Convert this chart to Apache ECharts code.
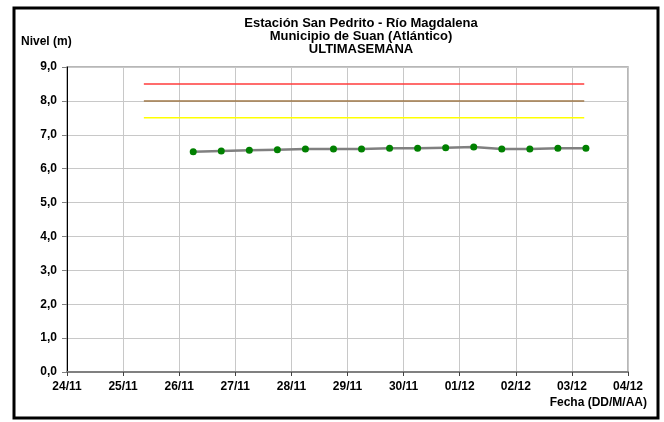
<!DOCTYPE html>
<html>
<head>
<meta charset="utf-8">
<script src="https://cdn.jsdelivr.net/npm/echarts@6/dist/echarts.min.js"></script>
<style>
  html, body { margin: 0; padding: 0; background: #fff; }
  #chart { width: 664px; height: 422px; }
</style>
</head>
<body>
<div id="chart"></div>
<script>
// x axis days counted from 24/11
const dayLabels = ['24/11', '25/11', '26/11', '27/11', '28/11', '29/11', '30/11', '01/12', '02/12', '03/12', '04/12'];
// readings every 12 h (06:00 and 18:00) from 26/11 06:00
const times = [2.25, 2.75, 3.25, 3.75, 4.25, 4.75, 5.25, 5.75, 6.25, 6.75, 7.25, 7.75, 8.25, 8.75, 9.25];
const nivel = [6.50, 6.52, 6.54, 6.56, 6.58, 6.58, 6.58, 6.60, 6.60, 6.62, 6.64, 6.58, 6.58, 6.60, 6.60];
// alert levels (m) and their span on the x axis
const alertas = [8.5, 8.0, 7.5];
const alertaColores = ['#ff3b3b', '#a07848', '#ffff00'];
const alertaDesde = 1.37;
const alertaHasta = 9.22;

const font = 'Liberation Sans, Arial, sans-serif';
const coma = v => v.toFixed(1).replace('.', ',');

let series = alertas.map((a, i) => ({
    type: 'line',
    data: [[alertaDesde, a], [alertaHasta, a]],
    showSymbol: false,
    lineStyle: {color: alertaColores[i], width: 1.5},
    silent: true
}));
series.push({
    type: 'line',
    data: times.map((t, i) => [t, nivel[i]]),
    symbol: 'circle',
    symbolSize: 7,
    itemStyle: {color: '#008000'},
    lineStyle: {color: '#808080', width: 2.5}
});

let myChart = echarts.init(document.getElementById('chart'));
myChart.setOption({
    animation: false,
    title: {
        text: 'Estación San Pedrito - Río Magdalena\nMunicipio de Suan (Atlántico)\nULTIMASEMANA',
        left: 356,
        top: 12,
        textAlign: 'center',
        textStyle: {fontFamily: font, fontSize: 13, fontWeight: 'bold', color: '#000', lineHeight: 13}
    },
    grid: {
        left: 67,
        right: 36,
        top: 67,
        bottom: 50,
        show: true,
        borderColor: '#a0a0a0',
        borderWidth: 1.5
    },
    xAxis: {
        type: 'value',
        min: 0,
        max: 10,
        interval: 1,
        axisLine: {lineStyle: {color: '#808080', width: 2}},
        axisTick: {show: true, length: 4, lineStyle: {color: '#404040'}},
        axisLabel: {
            margin: 9,
            fontFamily: font,
            fontSize: 12,
            fontWeight: 'bold',
            color: '#000',
            formatter: v => dayLabels[v]
        },
        splitLine: {show: true, lineStyle: {color: '#c8c8c8', width: 1}}
    },
    yAxis: {
        type: 'value',
        min: 0,
        max: 9,
        interval: 1,
        axisLine: {show: true, lineStyle: {color: '#000', width: 1}},
        axisTick: {show: true, length: 5, lineStyle: {color: '#808080'}},
        axisLabel: {
            margin: 10,
            fontFamily: font,
            fontSize: 12,
            fontWeight: 'bold',
            color: '#000',
            formatter: coma
        },
        splitLine: {show: true, lineStyle: {color: '#c8c8c8', width: 1}}
    },
    graphic: [
        {
            type: 'rect',
            shape: {x: 14, y: 8, width: 644, height: 410},
            style: {fill: null, stroke: '#000', lineWidth: 3},
            silent: true
        },
        {
            type: 'text',
            left: 21,
            top: 36,
            style: {text: 'Nivel (m)', font: 'bold 12px ' + font, fill: '#000'}
        },
        {
            type: 'text',
            right: 17,
            top: 397,
            style: {text: 'Fecha (DD/M/AA)', font: 'bold 12px ' + font, fill: '#000'}
        }
    ],
    series: series
});
</script>
</body>
</html>
